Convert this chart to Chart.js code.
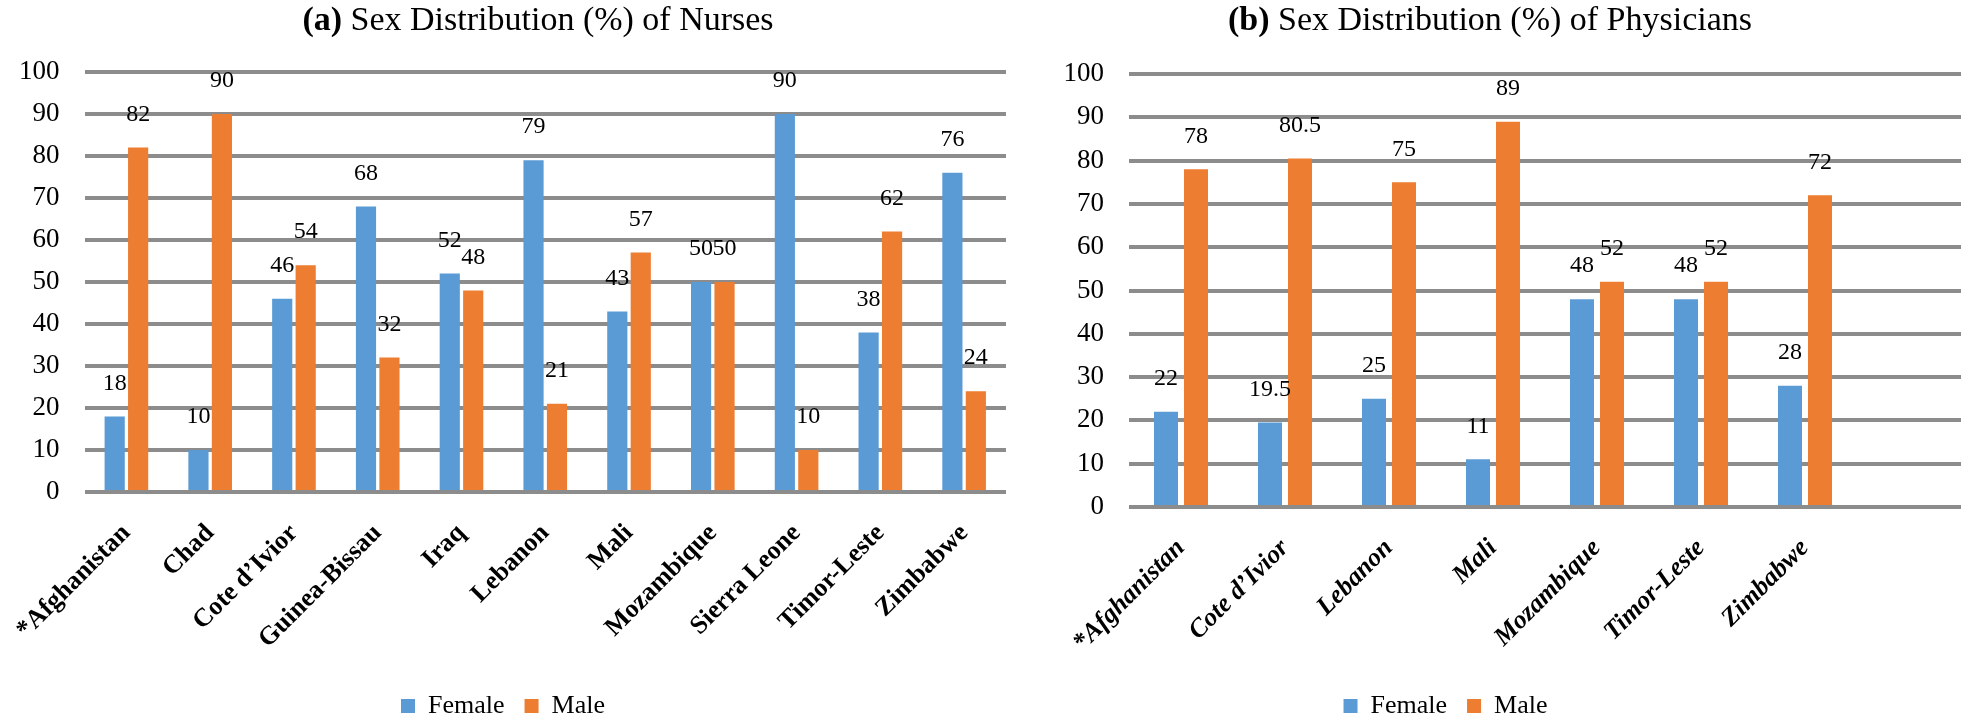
<!DOCTYPE html>
<html>
<head>
<meta charset="utf-8">
<script src="https://cdn.jsdelivr.net/npm/chart.js@4.4.0/dist/chart.umd.min.js"></script>
<style>
    html, body { margin: 0; padding: 0; background: #fff; }
    #wrap { position: relative; width: 1968px; height: 721px; }
    #nurses-chart { position: absolute; left: 0; top: 0; }
    #physicians-chart { position: absolute; left: 1030px; top: 0; }
</style>
</head>
<body>
<div id="wrap">
    <canvas id="nurses-chart" width="1025" height="721"></canvas>
    <canvas id="physicians-chart" width="938" height="721"></canvas>
</div>
<script>
// Data
const seriesNames = ['Female', 'Male'];
const yTicks = [0, 10, 20, 30, 40, 50, 60, 70, 80, 90, 100];

const nurseCountries = ['*Afghanistan', 'Chad', 'Cote d\u2019Ivior', 'Guinea-Bissau', 'Iraq', 'Lebanon',
    'Mali', 'Mozambique', 'Sierra Leone', 'Timor-Leste', 'Zimbabwe'];
const nurseFemale = [18, 10, 46, 68, 52, 79, 43, 50, 90, 38, 76];
const nurseMale = [82, 90, 54, 32, 48, 21, 57, 50, 10, 62, 24];

const physicianCountries = ['*Afghanistan', 'Cote d\u2019Ivior', 'Lebanon', 'Mali', 'Mozambique',
    'Timor-Leste', 'Zimbabwe'];
const physicianFemale = [22, 19.5, 25, 11, 48, 48, 28];
const physicianMale = [78, 80.5, 75, 89, 52, 52, 72];

const serif = '"Liberation Serif", "Times New Roman", serif';
const colors = ['#5b9bd5', '#ed7d31'];
const legendFont = 26;
const legendPad = 20;

// Title with a bold "(a)" / "(b)" prefix
const boldTitle = {
    id: 'boldTitle',
    afterDraw(chart, args, opts) {
        const ctx = chart.ctx;
        ctx.save();
        ctx.textBaseline = 'middle';
        ctx.textAlign = 'left';
        ctx.fillStyle = '#000';
        ctx.font = 'bold 34px ' + serif;
        const w1 = ctx.measureText(opts.prefix + ' ').width;
        ctx.font = '34px ' + serif;
        const w2 = ctx.measureText(opts.text).width;
        const x = opts.centerX - (w1 + w2) / 2;
        ctx.font = 'bold 34px ' + serif;
        ctx.fillText(opts.prefix, x, opts.y);
        ctx.font = '34px ' + serif;
        ctx.fillText(opts.text, x + w1, opts.y);
        ctx.restore();
    }
};

// Value labels above every bar
const valueLabels = {
    id: 'valueLabels',
    afterDatasetsDraw(chart) {
        const ctx = chart.ctx;
        ctx.save();
        ctx.font = '24px ' + serif;
        ctx.fillStyle = '#000';
        ctx.textAlign = 'center';
        ctx.textBaseline = 'middle';
        chart.data.datasets.forEach(function (ds, i) {
            chart.getDatasetMeta(i).data.forEach(function (bar, j) {
                const v = ds.data[j];
                if (v === undefined || v === null) return;
                ctx.fillText(String(v), bar.x, bar.y - 33);
            });
        });
        ctx.restore();
    }
};

// Move the legend to where Excel put it (not centered under the plot)
const legendPlace = {
    id: 'legendPlace',
    afterLayout(chart, args, opts) {
        const lg = chart.legend;
        if (!lg) return;
        const h = lg.bottom - lg.top;
        lg.left += opts.dx;
        lg.right += opts.dx;
        lg.top = opts.centerY - legendPad - legendFont / 2;
        lg.bottom = lg.top + h;
    }
};

function makeChart(id, labels, female, male, o) {
    const ctx = document.getElementById(id).getContext('2d');
    return new Chart(ctx, {
        type: 'bar',
        data: {
            labels: labels,
            datasets: [
                { label: seriesNames[0], data: female, backgroundColor: colors[0],
                  categoryPercentage: o.catPct, barPercentage: o.barPct },
                { label: seriesNames[1], data: male, backgroundColor: colors[1],
                  categoryPercentage: o.catPct, barPercentage: o.barPct }
            ]
        },
        options: {
            responsive: false,
            animation: false,
            layout: { padding: { top: o.top, right: o.right, left: 0, bottom: 0 } },
            scales: {
                x: {
                    grid: { display: false },
                    border: { display: false },
                    // plot bottom stays put whatever the legend height is
                    afterFit: function (s) {
                        s.height = s.chart.height - o.plotBottom - s.chart.legend.height;
                    },
                    ticks: {
                        color: '#000',
                        autoSkip: false,
                        maxRotation: 45,
                        minRotation: 45,
                        padding: 18,
                        font: { family: serif, size: 26, weight: 'bold', style: o.labelStyle }
                    }
                },
                y: {
                    min: 0,
                    max: 100,
                    afterFit: function (s) { s.width = o.yWidth; },
                    afterBuildTicks: function (s) { s.ticks = yTicks.map(function (v) { return { value: v }; }); },
                    grid: { color: '#8c8c8c', lineWidth: 4, drawTicks: false },
                    border: { display: false },
                    ticks: { color: '#000', padding: 25, font: { family: serif, size: 27 } }
                }
            },
            plugins: {
                legend: {
                    position: 'bottom',
                    labels: {
                        color: '#000',
                        boxWidth: 14,
                        boxHeight: 14,
                        padding: legendPad,
                        font: { family: serif, size: legendFont }
                    }
                },
                tooltip: { enabled: false },
                boldTitle: { prefix: o.prefix, text: o.title, centerX: o.titleX, y: 21 },
                legendPlace: { dx: o.legendDx, centerY: 706 }
            }
        },
        plugins: [valueLabels, boldTitle, legendPlace]
    });
}

makeChart('nurses-chart', nurseCountries, nurseFemale, nurseMale, {
    catPct: 0.56, barPct: 0.86, top: 72, right: 19, plotBottom: 492, yWidth: 70,
    labelStyle: 'normal', prefix: '(a)', title: 'Sex Distribution (%) of Nurses', titleX: 538,
    legendDx: 0
});

// physicians chart has an empty eighth slot at the right
makeChart('physicians-chart', physicianCountries.concat(['']), physicianFemale, physicianMale, {
    catPct: 0.577, barPct: 0.8, top: 74, right: 7, plotBottom: 507, yWidth: 99,
    labelStyle: 'italic', prefix: '(b)', title: 'Sex Distribution (%) of Physicians', titleX: 460,
    legendDx: -50
});
</script>
</body>
</html>
